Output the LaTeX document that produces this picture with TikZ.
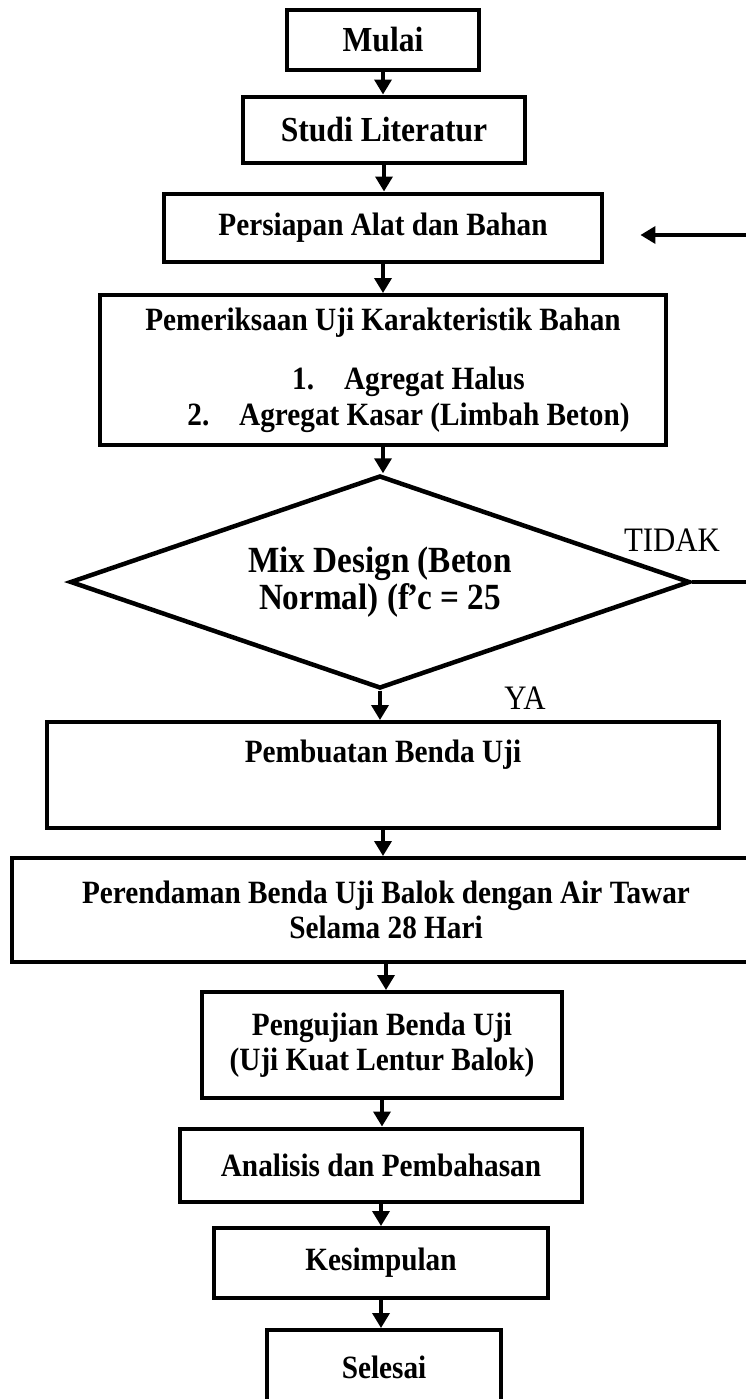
\documentclass[tikz,border=0pt]{standalone}
\usepackage{fontspec}
\setmainfont[FakeStretch=0.9]{Liberation Serif}
\usetikzlibrary{shapes.geometric, arrows.meta}

\begin{document}
\begin{tikzpicture}[x=0.02cm, y=-0.02cm,
    box/.style={draw, rectangle, line width=0.08cm, inner sep=0pt, align=center,
        font=\fontsize{18.5}{20}\selectfont\bfseries},
    bigbox/.style={box, font=\fontsize{20}{20}\selectfont\bfseries},
    decision/.style={draw, diamond, aspect=2.9, line width=0.09cm, inner sep=0pt, align=center,
        font=\fontsize{21}{21}\selectfont\bfseries},
    flow/.style={line width=0.07cm, -{Triangle[width=0.34cm, length=0.3cm]}},
    answer/.style={inner sep=0pt, font=\fontsize{19.5}{20}\selectfont}]

    % 画布范围 (像素坐标, 原点在左上角)
    \useasboundingbox (0,0) rectangle (746,1399);
    \clip (0,0) rectangle (746,1399);
    \fill[white] (0,0) rectangle (746,1399);

    % 1. 上半部分的流程框
    \node[bigbox, minimum width=3.84cm, minimum height=1.22cm] (mulai) at (383,40) {Mulai};
    \node[bigbox, minimum width=5.66cm, minimum height=1.34cm] (studi) at (384,130) {Studi Literatur};
    \node[box, minimum width=8.78cm, minimum height=1.38cm] (persiapan) at (383,228) {Persiapan Alat dan Bahan};
    \node[box, minimum width=11.32cm, minimum height=3.00cm] (periksa) at (383,370)
        {Pemeriksaan Uji Karakteristik Bahan\\[14pt]
         \hspace*{29pt}1.\hspace{17pt}Agregat Halus\\
         \hspace*{29pt}2.\hspace{17pt}Agregat Kasar (Limbah Beton)};

    % 2. 判断框 (菱形)
    \node[decision, minimum width=12.4cm, minimum height=4.26cm] (mix) at (380,582)
        {Mix Design (Beton\\Normal) (f\kern-0.8pt’\kern-0.8pt c = 25};

    % 3. 下半部分的流程框
    \node[box, minimum width=13.46cm, text height=0.80cm, text depth=1.32cm] (buat) at (383,775) {Pembuatan Benda Uji};
    \node[box, minimum width=14.96cm, minimum height=2.08cm] (rendam) at (386,910)
        {Perendaman Benda Uji Balok dengan Air Tawar\\Selama 28 Hari};
    \node[box, minimum width=7.20cm, minimum height=2.12cm] (uji) at (382,1045)
        {Pengujian Benda Uji\\(Uji Kuat Lentur Balok)};
    \node[box, minimum width=8.06cm, minimum height=1.46cm] (analisis) at (381,1165) {Analisis dan Pembahasan};
    \node[box, minimum width=6.70cm, minimum height=1.40cm] (simpul) at (381,1263) {Kesimpulan};
    \node[box, minimum width=4.70cm, minimum height=1.48cm] (selesai) at (384,1367) {Selesai};

    % 4. 竖直箭头, 依次连接各框
    \foreach \a/\b in {mulai/studi, studi/persiapan, persiapan/periksa, periksa/mix, mix/buat,
                       buat/rendam, rendam/uji, uji/analisis, analisis/simpul, simpul/selesai}
        \draw[flow] (\a.south) -- (\a.south |- \b.north);

    % 5. "TIDAK" 回路: 从菱形右端出去再回到准备框
    \coordinate (balik) at (780,582);
    \draw[flow, shorten >=0.72cm] (mix.east) -- (balik) |- ([yshift=-0.14cm]persiapan.east);

    % 判断结果标注
    \node[answer] (tidak) at (672,540) {TIDAK};
    \node[answer] (ya) at (525,698) {YA};

\end{tikzpicture}
\end{document}
